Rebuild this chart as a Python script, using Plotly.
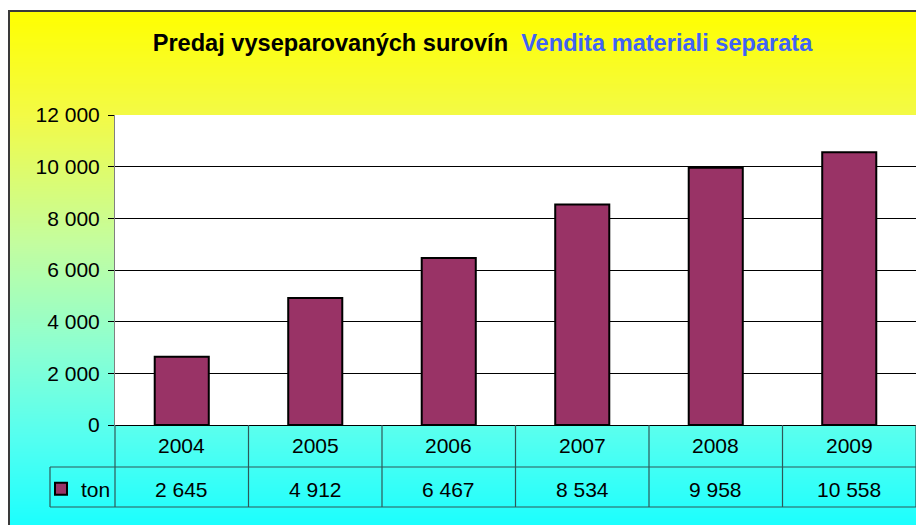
import base64
import struct
import zlib
import plotly.graph_objects as go

# ---------------- data ----------------
years = ["2004", "2005", "2006", "2007", "2008", "2009"]
tons = [2645, 4912, 6467, 8534, 9958, 10558]
series_name = "ton"
title_sk = "Predaj vyseparovaných surovín"
title_it = "Vendita materiali separata"
y_tick_vals = [0, 2000, 4000, 6000, 8000, 10000, 12000]

# ---------------- geometry helpers (window px -> paper) ----------------
OFF = 8                      # default page margin of the html body
W, H = 924 - OFF, 525 - OFF
L, R, T, B = 107, 8, 107, 100
PW, PH = W - L - R, H - T - B


def px(xw):
    return (xw - OFF - L) / PW


def py(yw):
    return (H - B - (yw - OFF)) / PH


# ---------------- gradient background image ----------------
stops = [
    (0.00, (255, 255, 0)),
    (0.20, (243, 250, 70)),
    (0.45, (195, 253, 160)),
    (0.65, (140, 255, 210)),
    (0.82, (85, 255, 240)),
    (1.00, (25, 255, 255)),
]


def color_at(t):
    for (t0, c0), (t1, c1) in zip(stops[:-1], stops[1:]):
        if t0 <= t <= t1:
            f = (t - t0) / (t1 - t0)
            return tuple(int(round(a + (b - a) * f)) for a, b in zip(c0, c1))
    return stops[-1][1]


def make_png(width, height):
    rows = b""
    for j in range(height):
        c = color_at(j / (height - 1))
        rows += b"\x00" + bytes(c) * width

    def chunk(tag, data):
        return (struct.pack(">I", len(data)) + tag + data +
                struct.pack(">I", zlib.crc32(tag + data) & 0xFFFFFFFF))

    ihdr = struct.pack(">IIBBBBB", width, height, 8, 2, 0, 0, 0)
    return (b"\x89PNG\r\n\x1a\n" + chunk(b"IHDR", ihdr) +
            chunk(b"IDAT", zlib.compress(rows, 9)) + chunk(b"IEND", b""))


grad_uri = "data:image/png;base64," + base64.b64encode(make_png(4, 520)).decode()

# ---------------- figure ----------------
fig = go.Figure()
fig.add_trace(go.Bar(
    x=years, y=tons, name=series_name, width=0.405,
    marker=dict(color="#993366", line=dict(color="#000000", width=2)),
    showlegend=True, hoverinfo="x+y",
))

FONT = "Liberation Sans, Arial, sans-serif"
TABLE_LINE = "#2F5858"

shapes = []
# white plot area
shapes.append(dict(type="rect", xref="paper", yref="paper", x0=0, x1=1, y0=0, y1=1,
                   fillcolor="white", line=dict(width=0), layer="below"))
# outer frame
shapes.append(dict(type="rect", xref="paper", yref="paper", x0=px(9), x1=px(940),
                   y0=py(540), y1=py(11), line=dict(color="#3a3a3a", width=2),
                   fillcolor="rgba(0,0,0,0)", layer="above"))
# data table lines
n = len(years)
for i in range(n + 1):
    shapes.append(dict(type="line", xref="paper", yref="paper", x0=i / n, x1=i / n,
                       y0=0, y1=py(507), line=dict(color=TABLE_LINE, width=1.2)))
for yy in (467, 507):
    shapes.append(dict(type="line", xref="paper", yref="paper", x0=px(50), x1=1,
                       y0=py(yy), y1=py(yy), line=dict(color=TABLE_LINE, width=1.2)))
shapes.append(dict(type="line", xref="paper", yref="paper", x0=px(50), x1=px(50),
                   y0=py(467), y1=py(507), line=dict(color=TABLE_LINE, width=1.2)))

annotations = []
for i, (yr, v) in enumerate(zip(years, tons)):
    annotations.append(dict(x=i, xref="x", y=py(445), yref="paper", text=yr,
                            showarrow=False, font=dict(family=FONT, size=21, color="black"),
                            xanchor="center", yanchor="middle"))
    annotations.append(dict(x=i, xref="x", y=py(489), yref="paper",
                            text=f"{v:,}".replace(",", " "),
                            showarrow=False, font=dict(family=FONT, size=21, color="black"),
                            xanchor="center", yanchor="middle"))

fig.update_layout(
    width=W, height=H,
    margin=dict(l=L, r=R, t=T, b=B),
    paper_bgcolor="white", plot_bgcolor="white",
    separators=", ",
    font=dict(family=FONT, size=21, color="black"),
    title=dict(
        text=(f"<b>{title_sk}</b>  "
              f"<span style='color:#3F63F5'><b>{title_it}</b></span>"),
        x=(482.5 - OFF) / W, xref="container", xanchor="center",
        y=1 - (43 - OFF) / H, yref="container", yanchor="middle",
        font=dict(family=FONT, size=23.6, color="black"),
    ),
    xaxis=dict(type="category", range=[-0.5, n - 0.5], showticklabels=False,
               showgrid=False, zeroline=False, showline=False, ticks=""),
    yaxis=dict(range=[0, 12000], tickvals=y_tick_vals, tickformat=",d",
               showgrid=True, gridcolor="black", gridwidth=1,
               zeroline=True, zerolinecolor="black", zerolinewidth=1.2,
               showline=True, linecolor="#808080", linewidth=1,
               ticks="outside", ticklen=6, tickcolor="black", tickwidth=1,
               ticklabelstandoff=4,
               tickfont=dict(family=FONT, size=21, color="black")),
    legend=dict(x=px(41), y=py(489), xanchor="left", yanchor="middle",
                xref="paper", yref="paper", bgcolor="rgba(0,0,0,0)",
                font=dict(family=FONT, size=21, color="black"), borderwidth=0),
    images=[dict(source=grad_uri, xref="paper", yref="paper", x=px(8), y=py(11),
                 sizex=px(930) - px(8), sizey=py(11) - py(530), sizing="stretch",
                 xanchor="left", yanchor="top", layer="below")],
    shapes=shapes,
    annotations=annotations,
    bargap=0.6,
)

fig.write_html("out.html")
